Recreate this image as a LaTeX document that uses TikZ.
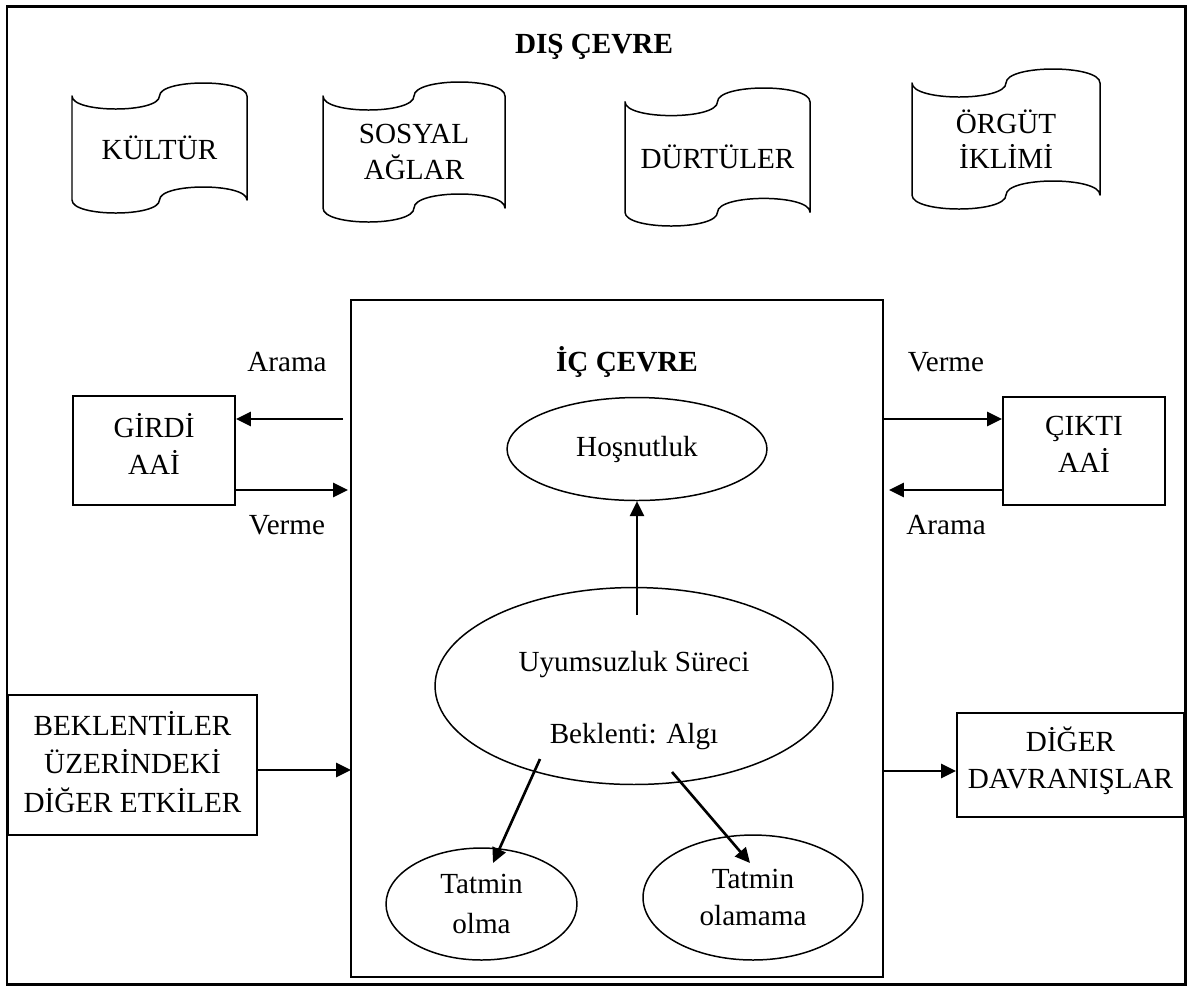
\documentclass[tikz,border=0pt]{standalone}
\usepackage{fontspec}
\setmainfont{Liberation Serif}
\usetikzlibrary{shapes.geometric,arrows.meta,fit,calc}

% wavy banner: name, left x, top y, right x, bottom y, text
\newcommand\wavebanner[6]{%
  \pgfmathsetmacro\bxm{(#2+#4)/2}%
  \pgfmathsetmacro\ba{(#5-#3)/10}%
  \pgfmathsetmacro\bk{4*\ba/3}%
  \pgfmathsetmacro\byt{-(#3)-\ba}%
  \pgfmathsetmacro\byb{-(#5)+\ba}%
  \draw[bannerline] (#2,\byt)
    .. controls (#2,\byt-\bk) and (\bxm,\byt-\bk) .. (\bxm,\byt)
    .. controls (\bxm,\byt+\bk) and (#4,\byt+\bk) .. (#4,\byt)
    -- (#4,\byb)
    .. controls (#4,\byb+\bk) and (\bxm,\byb+\bk) .. (\bxm,\byb)
    .. controls (\bxm,\byb-\bk) and (#2,\byb-\bk) .. (#2,\byb)
    -- cycle;
  \node[lbl] (#1) at (\bxm,{-(#3+#5)/2}) {#6};
}

\begin{document}
\begin{tikzpicture}[x=0.02cm,y=0.02cm,
  font=\fontsize{16.6}{21}\selectfont,
  lbl/.style={inner sep=0pt,align=center},
  title/.style={inner sep=0pt,font=\fontsize{16.6}{21}\selectfont\bfseries},
  bannerline/.style={line width=0.85pt,line join=round},
  boxed/.style={draw,line width=1.1pt,inner sep=0pt,align=center},
  oval/.style={draw,ellipse,line width=0.85pt,inner sep=0pt,align=center},
  arr/.style={line width=1.5pt,-{Triangle[length=8.5pt,width=8pt]}}]

\useasboundingbox (0,0) rectangle (1192,-992);

% outer frame
\node[draw,line width=1.7pt,inner sep=0pt,fit={(7,-6) (1185,-984)}] (frame) {};
\node[title] (dis) at (594,-47) {DIŞ ÇEVRE};

% external factors
\wavebanner{kultur}{72}{83}{247}{213}{KÜLTÜR}
\wavebanner{sosyal}{323}{82}{505}{222}{SOSYAL\\[-1pt]AĞLAR}
\wavebanner{durtu}{625}{88}{810}{226}{DÜRTÜLER}
\wavebanner{orgut}{912}{69}{1100}{209}{ÖRGÜT\\[-1pt]İKLİMİ}

% inner environment
\node[draw,line width=1pt,inner sep=0pt,fit={(351,-300) (883,-977)}] (ic) {};
\node[title] (ictitle) at (627,-362) {İÇ ÇEVRE};

\node[oval,minimum width=5.2cm,minimum height=2.06cm] (hos) at (637,-449) {Hoşnutluk};
\node[oval,minimum width=7.96cm,minimum height=3.94cm] (uyum) at (634,-686) {};
\node[lbl] (uyumA) at (634,-665) {Uyumsuzluk Süreci};
\node[lbl] (uyumB) at (634,-737) {Beklenti: Algı};
\node[oval,minimum width=3.82cm,minimum height=2.24cm] (olma) at (481.5,-904) {Tatmin\\[2pt]olma};
\node[oval,minimum width=4.4cm,minimum height=2.5cm] (olamama) at (753,-897.5) {Tatmin\\olamama};

\coordinate (hosStart) at (637,-615);
\coordinate (olmaStart) at (540,-759);
\coordinate (olmaTip) at (493,-863);
\coordinate (olamStart) at (672,-772);
\coordinate (olamTip) at (750,-863);
\draw[arr] (hosStart) -- (hos.south);
\draw[arr] (olmaStart) -- (olmaTip);
\draw[arr] (olamStart) -- (olamTip);

% input side
\node[boxed,fit={(73,-396) (235,-505)}] (girdi) {};
\node[lbl] at (154,-444) {GİRDİ\\AAİ};
\coordinate (inTop) at (343,-419);
\coordinate (inLow) at (348,-490);
\draw[arr] (inTop) -- (inTop -| girdi.east);
\draw[arr] (inLow -| girdi.east) -- (inLow);
\node[lbl] (aramaL) at (287,-362) {Arama};
\node[lbl] (vermeL) at (287,-525) {Verme};

% output side
\node[boxed,fit={(1003,-397) (1165,-505)}] (cikti) {};
\node[lbl] at (1084,-444) {ÇIKTI\\AAİ};
\coordinate (outTop) at (883,-419);
\coordinate (outLow) at (889,-490);
\draw[arr] (outTop) -- (outTop -| cikti.west);
\draw[arr] (outLow -| cikti.west) -- (outLow);
\node[lbl] (vermeR) at (946,-362) {Verme};
\node[lbl] (aramaR) at (946,-525) {Arama};

% other influences and behaviours
\node[boxed,fit={(8,-695) (257,-835)}] (bek) {};
\node[lbl] at (132.5,-762) {BEKLENTİLER\\[1pt]ÜZERİNDEKİ\\[1pt]DİĞER ETKİLER};
\coordinate (bekIn) at (351,-770);
\draw[arr] (bekIn -| bek.east) -- (bekIn);

\node[boxed,fit={(957,-713) (1184,-817)}] (diger) {};
\node[lbl] at (1070.5,-761) {DİĞER\\DAVRANIŞLAR};
\coordinate (digOut) at (883,-771);
\draw[arr] (digOut) -- (digOut -| diger.west);

\end{tikzpicture}
\end{document}
